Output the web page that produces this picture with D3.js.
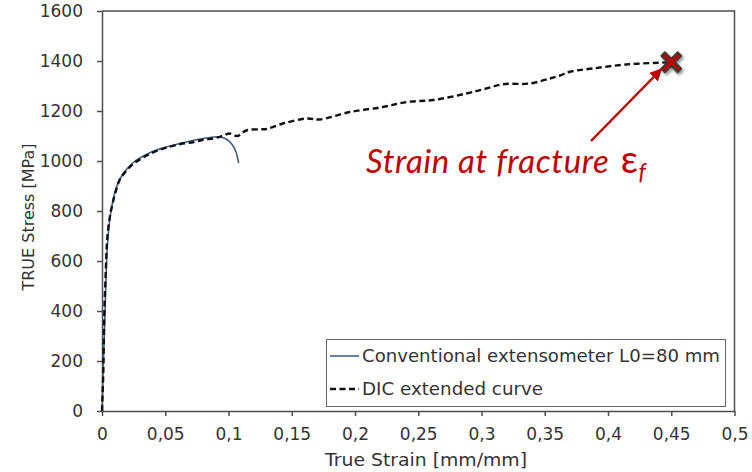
<!DOCTYPE html>
<html>
<head>
<meta charset="utf-8">
<script src="https://cdn.jsdelivr.net/npm/d3@7"></script>
<style>
  html, body { margin: 0; padding: 0; background: #fff; }
  svg { display: block; }
</style>
</head>
<body>
<div id="chart"></div>
<script>
// Conventional extensometer curve (L0 = 80 mm): true strain / true stress [MPa]
const extStrain = [0, 0.001, 0.002, 0.003, 0.004, 0.006, 0.008, 0.011, 0.015, 0.02, 0.025, 0.03, 0.04, 0.05, 0.06, 0.07, 0.08, 0.088, 0.094, 0.099, 0.103, 0.106, 0.108];
const extStress = [0, 180, 330, 500, 640, 760, 825, 890, 935, 970, 995, 1012, 1038, 1055, 1068, 1080, 1090, 1096, 1096, 1085, 1065, 1035, 992];

// DIC extended curve, up to fracture
const dicStrain = [0, 0.001, 0.0015, 0.002, 0.003, 0.004, 0.006, 0.008, 0.011, 0.014, 0.019, 0.025, 0.033, 0.043, 0.052, 0.062, 0.072, 0.08, 0.088, 0.095, 0.101, 0.107, 0.114, 0.125, 0.13, 0.143, 0.162, 0.172, 0.196, 0.222, 0.241, 0.262, 0.288, 0.301, 0.317, 0.338, 0.354, 0.362, 0.37, 0.388, 0.414, 0.44, 0.45];
const dicStress = [0, 150, 300, 420, 560, 680, 770, 822, 880, 925, 960, 990, 1015, 1040, 1055, 1068, 1075, 1085, 1090, 1100, 1110, 1100, 1122, 1127, 1128, 1150, 1170, 1166, 1196, 1216, 1236, 1244, 1270, 1286, 1307, 1310, 1330, 1342, 1357, 1370, 1386, 1393, 1395];

// Fracture point
const fractureStrain = [0.45];
const fractureStress = [1395];

// Axis ticks
const xTicks = [0, 0.05, 0.1, 0.15, 0.2, 0.25, 0.3, 0.35, 0.4, 0.45, 0.5];
const yTicks = [0, 200, 400, 600, 800, 1000, 1200, 1400, 1600];

const seriesNames = ["Conventional extensometer L0=80 mm", "DIC extended curve"];

const W = 752, H = 472;
const m = { left: 102, right: 17.5, top: 11, bottom: 61 };
const axisColor = "#4d4d4d";
const textColor = "#333";
const red = "#c00000";
const font = "'DejaVu Sans', Verdana, sans-serif";

const svg = d3.select("#chart").append("svg")
  .attr("width", W).attr("height", H);

const defs = svg.append("defs");
const shadow = defs.append("filter").attr("id", "shadow")
  .attr("x", "-50%").attr("y", "-50%").attr("width", "200%").attr("height", "200%");
shadow.append("feDropShadow").attr("dx", 1.5).attr("dy", 2).attr("stdDeviation", 1.5)
  .attr("flood-color", "#000").attr("flood-opacity", 0.45);
defs.append("marker").attr("id", "arrowhead")
  .attr("viewBox", "0 0 10 10").attr("refX", 9).attr("refY", 5)
  .attr("markerWidth", 5).attr("markerHeight", 5)
  .attr("markerUnits", "strokeWidth")
  .attr("orient", "auto")
  .append("path").attr("d", "M0,0 L10,5 L0,10 Z").attr("fill", red);

const x = d3.scaleLinear().domain([0, 0.5]).range([m.left, W - m.right]);
const y = d3.scaleLinear().domain([0, 1600]).range([H - m.bottom, m.top]);

const fmt = d => String(d).replace(".", ",");

// Frame (top and right edges)
svg.append("path")
  .attr("d", `M${x(0)},${y(1600)} H${x(0.5)} V${y(0)}`)
  .attr("fill", "none").attr("stroke", axisColor).attr("stroke-width", 1.5);

// Axes
const xAxis = svg.append("g")
  .attr("transform", `translate(0,${y(0)})`)
  .call(d3.axisBottom(x).tickValues(xTicks).tickFormat(fmt).tickSize(5).tickPadding(12).tickSizeOuter(0));
const yAxis = svg.append("g")
  .attr("transform", `translate(${x(0)},0)`)
  .call(d3.axisLeft(y).tickValues(yTicks).tickFormat(fmt).tickSize(5).tickPadding(14).tickSizeOuter(0));

[xAxis, yAxis].forEach(g => {
  g.select(".domain").attr("stroke", axisColor).attr("stroke-width", 1.5);
  g.selectAll(".tick line").attr("stroke", axisColor).attr("stroke-width", 1.5);
  g.selectAll(".tick text").attr("fill", textColor)
    .style("font-family", font).style("font-size", "17px");
});

// Axis titles
svg.append("text")
  .attr("x", 325).attr("y", 466)
  .attr("textLength", 202).attr("lengthAdjust", "spacingAndGlyphs")
  .attr("fill", textColor)
  .style("font-family", font).style("font-size", "17px")
  .text("True Strain [mm/mm]");
svg.append("text")
  .attr("transform", `translate(34,217) rotate(-90)`)
  .attr("text-anchor", "middle").attr("fill", textColor)
  .style("font-family", font).style("font-size", "16px")
  .text("TRUE Stress [MPa]");

// Curves
const extData = extStrain.map((s, i) => [s, extStress[i]]);
const dicData = dicStrain.map((s, i) => [s, dicStress[i]]);
const line = d3.line().x(d => x(d[0])).y(d => y(d[1])).curve(d3.curveCatmullRom.alpha(0.5));

svg.append("path").datum(extData)
  .attr("d", line)
  .attr("fill", "none").attr("stroke", "#3f5f80").attr("stroke-width", 1.6);

svg.append("path").datum(dicData)
  .attr("d", line)
  .attr("fill", "none").attr("stroke", "#111").attr("stroke-width", 2.4)
  .attr("stroke-dasharray", "6,3.5");

// Legend
const legendWidths = [358, 181];
const lg = svg.append("g");
lg.append("rect").attr("x", 326.5).attr("y", 339.5).attr("width", 399).attr("height", 67)
  .attr("fill", "#fff").attr("stroke", "#666").attr("stroke-width", 1);
lg.append("line").attr("x1", 330).attr("x2", 359).attr("y1", 356).attr("y2", 356)
  .attr("stroke", "#3f5f80").attr("stroke-width", 1.6);
lg.append("line").attr("x1", 330).attr("x2", 359).attr("y1", 389).attr("y2", 389)
  .attr("stroke", "#111").attr("stroke-width", 2.4).attr("stroke-dasharray", "6,3.5");
seriesNames.forEach((name, i) => {
  lg.append("text").attr("x", 362).attr("y", 362 + i * 33)
    .attr("textLength", legendWidths[i]).attr("lengthAdjust", "spacingAndGlyphs")
    .attr("fill", textColor).style("font-family", font).style("font-size", "17.5px")
    .text(name);
});

// Fracture marker
const fx = x(fractureStrain[0]), fy = y(fractureStress[0]);
const a = 10, t = 3.6;
const cross = `M${-a},${-a + t} L${-a + t},${-a} L0,${-t} L${a - t},${-a} L${a},${-a + t} L${t},0 L${a},${a - t} L${a - t},${a} L0,${t} L${-a + t},${a} L${-a},${a - t} L${-t},0 Z`;
svg.append("path").attr("d", cross)
  .attr("transform", `translate(${fx},${fy})`)
  .attr("fill", "#c00000").attr("stroke", "#3a3a3a").attr("stroke-width", 1.8)
  .attr("stroke-linejoin", "round")
  .attr("filter", "url(#shadow)");

// Annotation arrow and label
svg.append("line")
  .attr("x1", 591).attr("y1", 141).attr("x2", fx - 10).attr("y2", fy + 7)
  .attr("stroke", red).attr("stroke-width", 2.5)
  .attr("marker-end", "url(#arrowhead)");

const label = svg.append("text")
  .attr("x", 366).attr("y", 173)
  .attr("fill", red)
  .style("font-family", "Lato, 'Open Sans', sans-serif").style("font-style", "italic")
  .style("font-size", "33px").style("letter-spacing", "0.6px");
label.append("tspan").text("Strain at fracture ");
label.append("tspan").attr("dx", 3).style("font-style", "normal").style("font-size", "38px").text("ε");
label.append("tspan").attr("dy", 7).style("font-size", "23px").text("f");
</script>
</body>
</html>
